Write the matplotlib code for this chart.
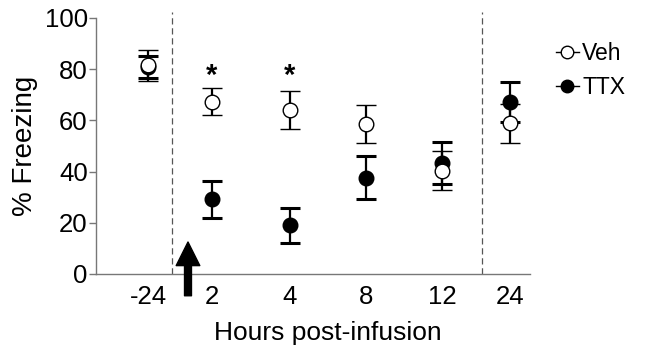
import matplotlib
matplotlib.use('Agg')
import matplotlib.pyplot as plt
from matplotlib.lines import Line2D

plt.rcParams['font.family'] = ['Liberation Sans', 'DejaVu Sans']

# dados
horas = ['-24', '2', '4', '8', '12', '24']
veh = [81.5, 67.3, 64.0, 58.5, 40.4, 58.9]
veh_err = [6.0, 5.2, 7.3, 7.5, 7.5, 7.6]
ttx = [80.8, 29.2, 19.1, 37.6, 43.2, 67.3]
ttx_err = [4.3, 7.2, 6.8, 8.5, 8.2, 7.8]
signif = ['', '*', '*', '', '', '']

# posicoes no eixo x (layout)
pos = [0, 0.842, 1.868, 2.868, 3.868, 4.763]

fig = plt.figure(figsize=(6.51, 3.52), dpi=100)
ax = fig.add_axes([0.1475, 0.2216, 0.6667, 0.7273])

cinza = '#777777'

ax.errorbar(pos, ttx, yerr=ttx_err, fmt='o', color='black', ms=10.5,
            mfc='black', mec='black', elinewidth=1.6, capsize=7.5, capthick=2.2,
            zorder=3)
ax.errorbar(pos, veh, yerr=veh_err, fmt='o', color='black', ms=10.5,
            mfc='white', mec='black', mew=1.0, elinewidth=1.6, capsize=7.5,
            capthick=2.2, zorder=4)

for x, s in zip(pos, signif):
    if s:
        ax.text(x, 77.5, s, ha='center', va='center', fontsize=21, fontweight='bold')

# linhas tracejadas
for xv in [0.316, 4.395]:
    ax.axvline(xv, ymin=0, ymax=1.025, color='#555555', lw=0.9, ls=(0, (5, 3)),
               clip_on=False, zorder=1)

# seta da infusao
ax.annotate('', xy=(0.526, 12.5), xytext=(0.526, -8.5),
            arrowprops=dict(width=5, headwidth=17, headlength=17, color='black'),
            annotation_clip=False)

ax.set_xlim(-0.684, 5.026)
ax.set_ylim(0, 100)
ax.set_yticks([0, 20, 40, 60, 80, 100])
ax.set_xticks(pos)
ax.set_xticklabels(horas)

for lado in ['top', 'right']:
    ax.spines[lado].set_visible(False)
for lado in ['left', 'bottom']:
    ax.spines[lado].set_color(cinza)
    ax.spines[lado].set_linewidth(1.0)

ax.tick_params(axis='y', colors=cinza, labelcolor='black', labelsize=18.5,
               length=5, width=1.0, pad=1)
ax.tick_params(axis='x', length=0, labelsize=18.5, pad=8)

ax.set_ylabel('% Freezing', fontsize=20, labelpad=5)
ax.set_xlabel('Hours post-infusion', fontsize=19, va='baseline')
ax.xaxis.set_label_coords(0.535, -0.258)

alca_veh = Line2D([], [], color='black', lw=1.0, marker='o', ms=9,
                  mfc='white', mec='black', mew=1.0)
alca_ttx = Line2D([], [], color='black', lw=1.0, marker='o', ms=9,
                  mfc='black', mec='black')
fig.legend([alca_veh, alca_ttx], ['Veh', 'TTX'], loc='upper left',
           bbox_to_anchor=(0.822, 0.94), frameon=False, fontsize=16.5,
           handlelength=1.0, handletextpad=0.15, labelspacing=0.5)

fig.savefig('out.png', dpi=100)
